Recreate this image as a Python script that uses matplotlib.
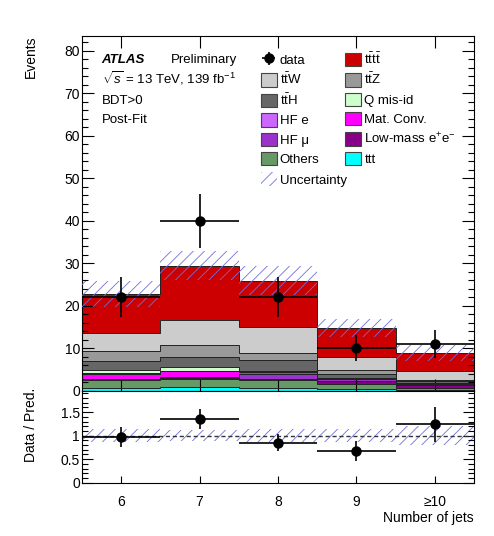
import numpy as np
import matplotlib
matplotlib.use('Agg')
import matplotlib.pyplot as plt
from matplotlib.patches import Patch
from matplotlib.ticker import MultipleLocator, FixedLocator

plt.rcParams['font.family'] = ['Liberation Sans', 'DejaVu Sans']
plt.rcParams['mathtext.fontset'] = 'custom'
plt.rcParams['mathtext.rm'] = 'Liberation Sans'
plt.rcParams['mathtext.it'] = 'Liberation Sans:italic'
plt.rcParams['mathtext.bf'] = 'Liberation Sans:bold'
plt.rcParams['hatch.linewidth'] = 0.6

# number of jets bins
jet_labels = ['6', '7', '8', '9', '≥10']
edges = np.arange(5.5, 11.0, 1.0)
centres = edges[:-1] + 0.5

data = np.array([22, 40, 22, 10, 11])

# post-fit backgrounds, bottom of the stack first
ttt      = [0.6, 0.9, 0.6, 0.4, 0.2]
others   = [1.8, 1.8, 1.9, 1.2, 0.4]
lowmass  = [0.3, 0.3, 0.3, 0.6, 0.8]
hf_mu    = [0.1, 0.2, 1.0, 0.5, 0.2]
mat_conv = [1.2, 1.3, 0.6, 0.1, 0.05]
hf_e     = [0.2, 0.1, 0.1, 0.05, 0.05]
qmisid   = [0.7, 1.0, 0.2, 0.05, 0.05]
tth      = [2.1, 2.3, 2.4, 1.0, 0.4]
ttz      = [2.4, 2.9, 1.8, 1.0, 0.4]
ttw      = [4.2, 5.9, 6.0, 3.0, 2.0]
tttt     = [9.1, 12.7, 11.0, 6.9, 4.3]
total_unc = np.array([3.0, 3.4, 3.5, 2.1, 1.8])

stack = [
    ('ttt', ttt, '#00ffff'),
    ('Others', others, '#669966'),
    ('Low-mass e$^{+}$e$^{-}$', lowmass, '#880088'),
    ('HF μ', hf_mu, '#9933cc'),
    ('Mat. Conv.', mat_conv, '#ff00ff'),
    ('HF e', hf_e, '#cc66ff'),
    ('Q mis-id', qmisid, '#ccffcc'),
    (r'$\mathrm{t\bar{t}H}$', tth, '#666666'),
    (r'$\mathrm{t\bar{t}Z}$', ttz, '#999999'),
    (r'$\mathrm{t\bar{t}W}$', ttw, '#cccccc'),
    (r'$\mathrm{t\bar{t}t\bar{t}}$', tttt, '#cc0000'),
]

hatch_col = '#7070dd'

W, H = 494, 536
fig = plt.figure(figsize=(W / 100, H / 100), dpi=100)
left, right = 82 / W, 474 / W
y0 = 1 - 390.5 / H
ax = fig.add_axes([left, y0, right - left, 1 - 36 / H - y0])
axr = fig.add_axes([left, 1 - 482.7 / H, right - left, y0 - (1 - 482.7 / H)])

bottom = np.zeros(len(centres))
patches = {}
for name, vals, col in stack:
    top = bottom + np.array(vals)
    ax.stairs(top, edges, baseline=bottom, fill=True, color=col, lw=0, zorder=1)
    ax.stairs(top, edges, baseline=None, color='#222222', lw=0.7, zorder=2)
    patches[name] = Patch(facecolor=col, edgecolor='#444444', lw=0.8)
    bottom = top
total = bottom

ax.bar(centres, 2 * total_unc, bottom=total - total_unc, width=1.0, fill=False,
       hatch='///', edgecolor=hatch_col, lw=0, zorder=3)
eb = ax.errorbar(centres, data, yerr=np.sqrt(data), xerr=0.5, fmt='o', color='black',
                 ms=6.5, lw=1.2, capsize=0, zorder=5)

ax.set_xlim(5.5, 10.5)
ax.set_ylim(0, 83.5)
ax.set_xticks(centres)
ax.set_xticklabels([])
ax.yaxis.set_major_locator(MultipleLocator(10))
ax.yaxis.set_minor_locator(MultipleLocator(2))
ax.tick_params(which='both', direction='in', top=True, right=True, labelsize=10, pad=1.5)
ax.tick_params(which='major', length=8.6, width=0.8)
ax.tick_params(which='minor', length=4.3, width=0.8)
ax.set_ylabel('Events', loc='top', fontsize=10)
ax.yaxis.set_label_coords(-0.112, 1.0)

# labels
ax.text(0.05, 0.923, 'ATLAS', transform=ax.transAxes, fontsize=9.5,
        fontweight='bold', fontstyle='italic')
ax.text(0.227, 0.923, 'Preliminary', transform=ax.transAxes, fontsize=9.5)
ax.text(0.05, 0.8646, r'$\sqrt{s}$ = 13 TeV, 139 fb$^{-1}$', transform=ax.transAxes, fontsize=9.5)
ax.text(0.05, 0.808, 'BDT>0', transform=ax.transAxes, fontsize=9.5)
ax.text(0.05, 0.754, 'Post-Fit', transform=ax.transAxes, fontsize=9.5)

# legend, row-wise order like the ROOT one
names = [s[0] for s in stack]
col1 = [(eb, 'data')] + [(patches[n], n) for n in
        [names[9], names[7], names[5], names[3], names[1]]]
col2 = [(patches[n], n) for n in
        [names[10], names[8], names[6], names[4], names[2], names[0]]]
handles = [h for h, _ in col1 + col2]
labels = [l for _, l in col1 + col2]
leg_kw = dict(frameon=False, fontsize=9.5, borderpad=0, borderaxespad=0,
              handlelength=1.2, handleheight=1.2, handletextpad=0.25,
              labelspacing=0.39, loc='upper left', bbox_transform=fig.transFigure)
leg = ax.legend(handles, labels, ncol=2, columnspacing=1.95,
                bbox_to_anchor=(260.7 / W, 1 - 51.3 / H), **leg_kw)
ax.add_artist(leg)
unc_patch = Patch(facecolor='none', edgecolor=hatch_col, hatch='///', lw=0)
ax.legend([unc_patch], ['Uncertainty'], bbox_to_anchor=(260.7 / W, 1 - 172.5 / H), **leg_kw)

# ratio panel
ratio = data / total
ratio_err = np.sqrt(data) / total
rel_unc = total_unc / total
axr.bar(centres, 2 * rel_unc, bottom=1 - rel_unc, width=1.0, fill=False,
        hatch='///', edgecolor=hatch_col, lw=0, zorder=1)
axr.axhline(1.0, color='#333333', ls=(0, (3, 2)), lw=1.0, zorder=2)
axr.errorbar(centres, ratio, yerr=ratio_err, xerr=0.5, fmt='o', color='black',
             ms=6.5, lw=1.2, capsize=0, zorder=5)
axr.set_xlim(5.5, 10.5)
axr.set_ylim(0, 1.96)
axr.set_xticks(centres)
axr.set_xticklabels(jet_labels)
axr.yaxis.set_major_locator(FixedLocator([0, 0.5, 1, 1.5]))
axr.set_yticklabels(['0', '0.5', '1', '1.5'])
axr.yaxis.set_minor_locator(MultipleLocator(0.1))
axr.tick_params(which='both', direction='in', right=True, labelsize=10, pad=1.5)
axr.tick_params(axis='y', which='major', length=8, width=0.8)
axr.tick_params(axis='y', which='minor', length=4, width=0.8)
axr.tick_params(axis='x', which='major', length=5, width=0.8, pad=9)
axr.set_ylabel('Data / Pred.', loc='top', fontsize=10)
axr.yaxis.set_label_coords(-0.112, 1.027)
axr.set_xlabel('Number of jets', loc='right', fontsize=10)
axr.xaxis.set_label_coords(1.0, -0.31)

fig.savefig('out.png', dpi=100)
